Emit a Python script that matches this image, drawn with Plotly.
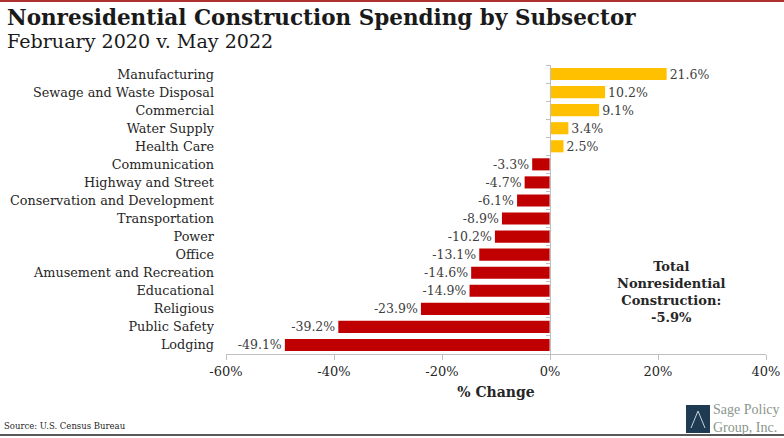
import plotly.graph_objects as go

categories = ["Manufacturing", "Sewage and Waste Disposal", "Commercial", "Water Supply",
              "Health Care", "Communication", "Highway and Street",
              "Conservation and Development", "Transportation", "Power", "Office",
              "Amusement and Recreation", "Educational", "Religious", "Public Safety", "Lodging"]
values = [21.6, 10.2, 9.1, 3.4, 2.5, -3.3, -4.7, -6.1, -8.9, -10.2, -13.1, -14.6, -14.9,
          -23.9, -39.2, -49.1]
tick_vals = [-60, -40, -20, 0, 20, 40]
tick_text = ["-60%", "-40%", "-20%", "0%", "20%", "40%"]

W, H = 784, 438
L, R, T, B = 226, 18, 65, 84
PW = W - L - R
PH = H - T - B

def px(x):
    return (x - L) / PW

def py(y):
    return 1 - (y - T) / PH

SERIF = "DejaVu Serif"
colors = ["#FFC000" if v >= 0 else "#C00000" for v in values]
labels = [f"{v:.1f}%" for v in values]

fig = go.Figure()
fig.add_trace(go.Bar(
    y=categories, x=values, orientation="h", marker=dict(color=colors, line=dict(width=0)),
    text=labels, textposition="outside", cliponaxis=False, constraintext="none",
    textfont=dict(family=SERIF, size=12.5, color="#404040"), hoverinfo="skip"))
fig.add_trace(go.Bar(y=categories, x=[0] * len(categories), orientation="h",
                     yaxis="y2", marker=dict(color="rgba(0,0,0,0)"), hoverinfo="skip",
                     showlegend=False))

fig.update_layout(
    width=W, height=H, margin=dict(l=L, r=R, t=T, b=B, autoexpand=False),
    paper_bgcolor="white", plot_bgcolor="white", showlegend=False,
    bargap=0.33,
    font=dict(family=SERIF, color="#262626"),
    xaxis=dict(range=[-60, 40], tickvals=tick_vals, ticktext=tick_text, showgrid=False,
               zeroline=False, showline=True, linecolor="#BFBFBF", linewidth=1,
               ticks="outside", ticklen=5, tickcolor="#BFBFBF", automargin=False,
               tickfont=dict(family=SERIF, size=13, color="#262626"),
               title=dict(text="<b>% Change</b>", font=dict(family=SERIF, size=14, color="#262626"),
                          standoff=9)),
    yaxis=dict(autorange="reversed", showgrid=False, showline=False, ticks="", automargin=False,
               tickfont=dict(family=SERIF, size=12.8, color="#262626"), ticklabelstandoff=11),
    yaxis2=dict(overlaying="y", matches="y", anchor="free", position=0.6,
                showgrid=False, showline=True, linecolor="#BFBFBF", linewidth=1,
                ticks="outside", ticklen=4, tickcolor="#BFBFBF", tickson="boundaries",
                showticklabels=False, side="left", automargin=False),
)

ann = [
    dict(text="<b>Nonresidential Construction Spending by Subsector</b>", x=px(5), y=py(32),
         font=dict(family=SERIF, size=21.5, color="#1a1a1a"), yanchor="bottom"),
    dict(text="February 2020 v. May 2022", x=px(5), y=py(55),
         font=dict(family=SERIF, size=19.1, color="#1a1a1a"), yanchor="bottom"),
    dict(text="<b>Total<br>Nonresidential<br>Construction:<br>-5.9%</b>", x=px(671), y=py(292),
         xanchor="center", yanchor="middle", align="center",
         font=dict(family=SERIF, size=13, color="#262626")),
    dict(text="Source: U.S. Census Bureau", x=px(2), y=py(433),
         font=dict(family=SERIF, size=8.5, color="#262626"), yanchor="bottom"),
    dict(text="Sage Policy<br>Group, Inc.", x=px(711), y=py(419), yanchor="middle",
         align="left", font=dict(family="Liberation Serif", size=14, color="#8A968C")),
]
for a in ann:
    a.setdefault("xanchor", "left")
    a.update(xref="paper", yref="paper", showarrow=False)
fig.update_layout(annotations=ann)

fig.add_shape(type="line", xref="paper", yref="paper", x0=px(0), x1=px(W), y0=py(1), y1=py(1),
              line=dict(color="#B03030", width=2))
fig.add_shape(type="line", xref="paper", yref="paper", x0=px(0), x1=px(W), y0=py(435), y1=py(435),
              line=dict(color="#595959", width=2))
fig.add_shape(type="rect", xref="paper", yref="paper", x0=px(686), x1=px(710), y0=py(405), y1=py(433),
              line=dict(width=0), fillcolor="#1F3B54")
fig.add_shape(type="path", xref="paper", yref="paper",
              path=f"M {px(691)},{py(428)} L {px(698)},{py(411)} L {px(705)},{py(428)}",
              line=dict(color="#C9D3D8", width=1))

fig.write_html("out.html")
